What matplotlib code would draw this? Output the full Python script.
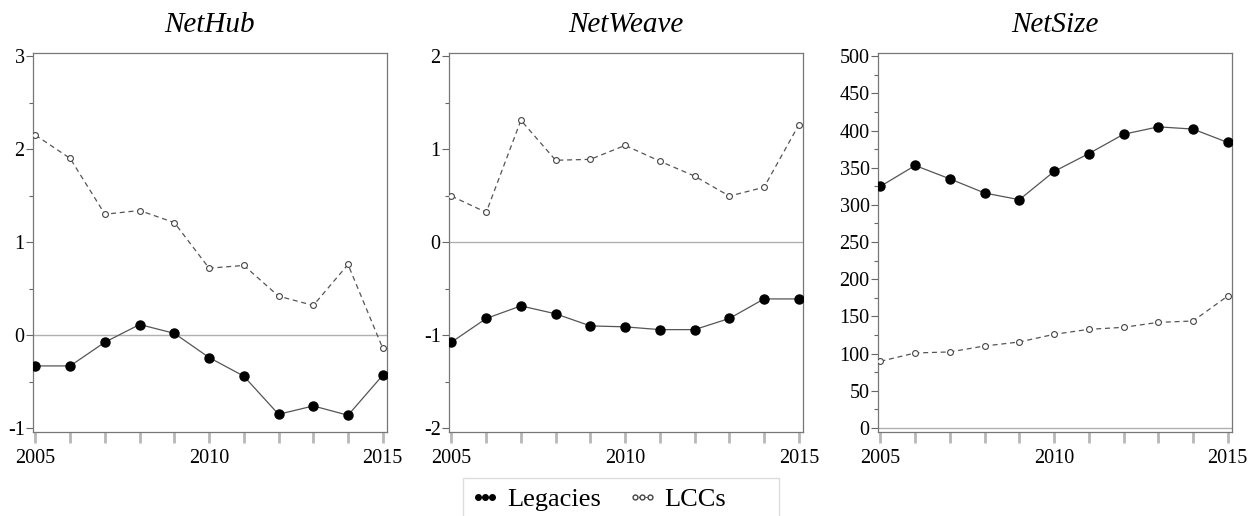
import matplotlib
matplotlib.use("Agg")
from matplotlib import pyplot as plt
from matplotlib.lines import Line2D
from matplotlib.patches import Rectangle
from matplotlib.ticker import MultipleLocator

years = list(range(2005, 2016))

titles = ['NetHub', 'NetWeave', 'NetSize']

hub_legacies = [-0.33, -0.33, -0.075, 0.115, 0.02, -0.24, -0.44, -0.85, -0.76, -0.86, -0.43]
hub_lccs = [2.15, 1.90, 1.30, 1.34, 1.21, 0.72, 0.75, 0.42, 0.32, 0.76, -0.14]

weave_legacies = [-1.075, -0.82, -0.685, -0.77, -0.90, -0.91, -0.94, -0.94, -0.82, -0.61, -0.61]
weave_lccs = [0.495, 0.32, 1.31, 0.88, 0.89, 1.04, 0.87, 0.71, 0.495, 0.59, 1.26]

size_legacies = [325, 353, 335, 316, 307, 345, 369, 395, 405, 402, 384]
size_lccs = [89.6, 100.8, 102.2, 110.2, 115.6, 125.9, 132.6, 135.3, 142, 143.8, 177.4]

legacies = [hub_legacies, weave_legacies, size_legacies]
lccs = [hub_lccs, weave_lccs, size_lccs]

ylims = [(-1.04, 3.03), (-2.04, 2.03), (-5.5, 504)]
yticks = [[-1, 0, 1, 2, 3], [-2, -1, 0, 1, 2], list(range(0, 501, 50))]
yminor = [0.5, 0.5, 25]

plt.rcParams['font.family'] = ['Liberation Serif', 'DejaVu Serif']
plt.rcParams['axes.unicode_minus'] = False

fig = plt.figure(figsize=(12.55, 5.16), dpi=100)
lefts = [0.0263, 0.3578, 0.6996]
for i in range(3):
    ax = fig.add_axes([lefts[i], 0.1628, 0.282, 0.734])
    ax.axhline(0, color='#b0b0b0', lw=1, zorder=1)
    ax.plot(years, lccs[i], ls=(0, (4, 3)), color='#555555', lw=0.9,
            marker='o', markersize=4.2, markerfacecolor='white',
            markeredgecolor='#444444', markeredgewidth=0.8, zorder=3)
    ax.plot(years, legacies[i], ls='-', color='#555555', lw=0.9,
            marker='o', markersize=6.5, markerfacecolor='black',
            markeredgecolor='black', zorder=4)
    ax.set_xlim(2004.93, 2015.12)
    ax.set_ylim(*ylims[i])
    ax.set_yticks(yticks[i])
    ax.yaxis.set_minor_locator(MultipleLocator(yminor[i]))
    ax.set_xticks(years)
    ax.set_xticklabels([str(y) if y in (2005, 2010, 2015) else '' for y in years])
    ax.tick_params(axis='x', length=8, width=2, color='#b8b8b8', labelsize=14.5, pad=4)
    ax.tick_params(axis='y', which='major', length=5, width=0.8, color='#666666',
                   labelsize=14.5, pad=1)
    ax.tick_params(axis='y', which='minor', length=3, width=0.8, color='#666666')
    for s in ax.spines.values():
        s.set_color('#777777')
        s.set_linewidth(0.9)
    ax.set_title(titles[i], fontsize=21, style='italic', pad=15)

# legend frame
fig.patches.append(Rectangle((463 / 1255, -0.01), 316 / 1255, 0.0836,
                             transform=fig.transFigure, facecolor='white',
                             edgecolor='#dddddd', lw=1))

handles = [
    Line2D([], [], ls='-', color='#222222', lw=1, marker='o', markersize=4,
           markerfacecolor='black', markeredgecolor='black'),
    Line2D([], [], ls=(0, (2, 1)), color='#555555', lw=0.8, marker='o', markersize=3.5,
           markerfacecolor='white', markeredgecolor='#444444'),
]
fig.legend(handles, ['Legacies', 'LCCs'], loc='center left',
           bbox_to_anchor=(470 / 1255, 1 - 499 / 516), ncol=2, frameon=False,
           fontsize=19, numpoints=3, handlelength=1.15, handletextpad=0.25,
           columnspacing=1.0, borderpad=0, borderaxespad=0)

fig.savefig('out.png', dpi=100)
